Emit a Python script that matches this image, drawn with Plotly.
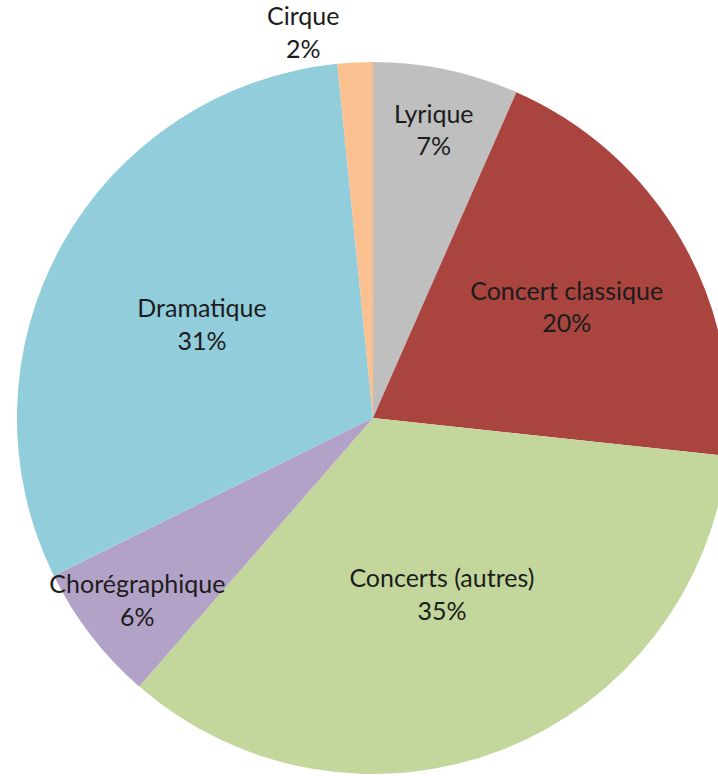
import plotly.graph_objects as go

categories = ["Lyrique", "Concert classique", "Concerts (autres)", "Chorégraphique", "Dramatique", "Cirque"]
shares = [6.6, 20.1, 34.7, 6.3, 30.7, 1.6]
colors = ["#BFBFBF", "#A9443F", "#C3D69B", "#B3A2C7", "#92CDDC", "#FAC090"]
text_positions = ["inside", "inside", "inside", "inside", "inside", "outside"]

W, H = 734, 788
fig = go.Figure(go.Pie(
    labels=categories,
    values=shares,
    sort=False,
    direction="clockwise",
    rotation=0,
    marker=dict(colors=colors, line=dict(width=0)),
    texttemplate="%{label}<br>%{value:.0f}%",
    textposition=text_positions,
    insidetextorientation="horizontal",
    textfont=dict(family="Lato", size=25, color="#1c1c1c"),
    showlegend=False,
    hoverinfo="label+percent",
    domain=dict(x=[17 / W, 731 / W], y=[1 - 783 / H, 1 - 69 / H]),
))
fig.update_layout(
    width=W, height=H,
    margin=dict(l=0, r=0, t=0, b=0),
    paper_bgcolor="white",
    plot_bgcolor="white",
    uniformtext=dict(minsize=25, mode="show"),
)
fig.write_html(
    "out.html",
    config={"displayModeBar": False},
    post_script="document.body.style.margin='-8px 0 0 0';document.body.style.overflow='hidden';",
)
